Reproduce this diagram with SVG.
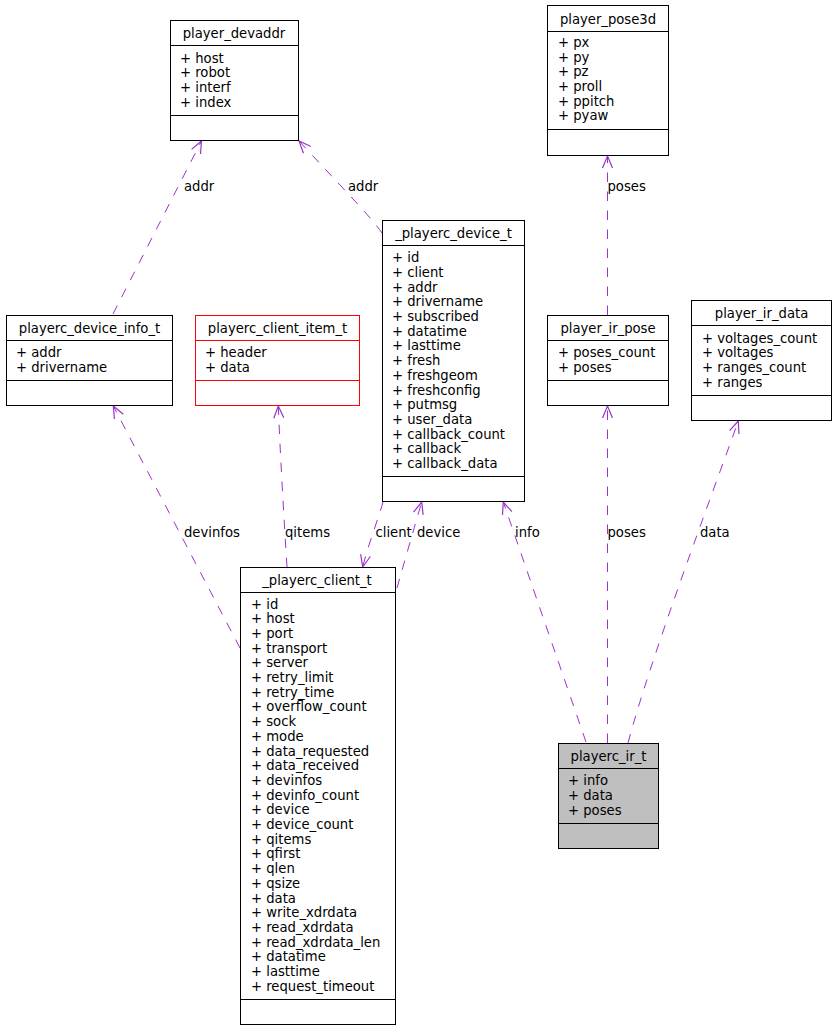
<svg xmlns="http://www.w3.org/2000/svg" width="835" height="1029" viewBox="0 0 835 1029">
<style>
text{font-family:"DejaVu Sans","Liberation Sans",sans-serif;font-size:13.2px;fill:#000}
.t{text-anchor:middle}
.box{fill:#fff;stroke:#000;stroke-width:1}
.red{stroke:#ff0000}
.gray{fill:#bfbfbf}
.sep{stroke:#000;stroke-width:1}
.sepred{stroke:#ff0000;stroke-width:1}
.e{fill:none;stroke:#9a32cd;stroke-width:1;stroke-dasharray:9.5,9.5;marker-end:url(#arr)}
</style>
<defs>
<marker id="arr" markerUnits="userSpaceOnUse" markerWidth="16" markerHeight="14" refX="12" refY="6" orient="auto" overflow="visible">
<path d="M0,1 L12,6 L0,11" fill="none" stroke="#9a32cd" stroke-width="1.2"/>
</marker>
</defs>
<rect width="835" height="1029" fill="#fff"/>
<g id="connectors">
<path class="e" d="M113,314 L201.5,141"/>
<path class="e" d="M382,233 C372,218 335,180 299,141"/>
<path class="e" d="M607.5,315 L607.5,156"/>
<path class="e" d="M287,567 C284,520 280,450 278.3,406"/>
<path class="e" d="M240,648 L113.3,406"/>
<path class="e" d="M397,588 C402,570 415,525 421.7,502"/>
<path class="e" d="M383,502 C378,520 368,545 362.7,567"/>
<path class="e" d="M586,742 L503.3,502"/>
<path class="e" d="M607.5,743 L607.5,406"/>
<path class="e" d="M628,743 C650,660 710,500 738.3,421"/>
<text x="184" y="190.5">addr</text>
<text x="348" y="190.5">addr</text>
<text x="607.5" y="190.5">poses</text>
<text x="184" y="536.5">devinfos</text>
<text x="285" y="536.5">qitems</text>
<text x="375.5" y="536.5">client</text>
<text x="417" y="536.5">device</text>
<text x="515" y="536.5">info</text>
<text x="607.5" y="536.5">poses</text>
<text x="700" y="536.5">data</text>
</g>
<g id="player_devaddr">
<rect class="box" x="170.5" y="20.5" width="128" height="120"/>
<line class="sep" x1="170.5" y1="45.5" x2="298.5" y2="45.5"/>
<line class="sep" x1="170.5" y1="115.5" x2="298.5" y2="115.5"/>
<text class="t" x="234" y="37.5">player_devaddr</text>
<text x="180" y="62.5">+ host</text>
<text x="180" y="77.2">+ robot</text>
<text x="180" y="91.8">+ interf</text>
<text x="180" y="106.5">+ index</text>
</g>
<g id="player_pose3d">
<rect class="box" x="547.5" y="5.5" width="121" height="150"/>
<line class="sep" x1="547.5" y1="31.5" x2="668.5" y2="31.5"/>
<line class="sep" x1="547.5" y1="129.5" x2="668.5" y2="129.5"/>
<text class="t" x="608" y="23.5">player_pose3d</text>
<text x="558" y="47">+ px</text>
<text x="558" y="61.6">+ py</text>
<text x="558" y="76.3">+ pz</text>
<text x="558" y="91">+ proll</text>
<text x="558" y="105.6">+ ppitch</text>
<text x="558" y="120.2">+ pyaw</text>
</g>
<g id="playerc_device_info_t">
<rect class="box" x="6.5" y="315.5" width="166" height="90"/>
<line class="sep" x1="6.5" y1="340.5" x2="172.5" y2="340.5"/>
<line class="sep" x1="6.5" y1="380.5" x2="172.5" y2="380.5"/>
<text class="t" x="89.5" y="332.5">playerc_device_info_t</text>
<text x="16" y="356.8">+ addr</text>
<text x="16" y="371.5">+ drivername</text>
</g>
<g id="playerc_client_item_t">
<rect class="box red" x="195.5" y="315.5" width="164" height="90"/>
<line class="sepred" x1="195.5" y1="340.5" x2="359.5" y2="340.5"/>
<line class="sepred" x1="195.5" y1="380.5" x2="359.5" y2="380.5"/>
<text class="t" x="277.5" y="332.5">playerc_client_item_t</text>
<text x="205" y="356.8">+ header</text>
<text x="205" y="371.5">+ data</text>
</g>
<g id="_playerc_device_t">
<rect class="box" x="382.5" y="220.5" width="142" height="281"/>
<line class="sep" x1="382.5" y1="245.5" x2="524.5" y2="245.5"/>
<line class="sep" x1="382.5" y1="476.5" x2="524.5" y2="476.5"/>
<text class="t" x="453.5" y="238">_playerc_device_t</text>
<text x="392" y="262.3">+ id</text>
<text x="392" y="277">+ client</text>
<text x="392" y="291.7">+ addr</text>
<text x="392" y="306.4">+ drivername</text>
<text x="392" y="321.1">+ subscribed</text>
<text x="392" y="335.8">+ datatime</text>
<text x="392" y="350.4">+ lasttime</text>
<text x="392" y="365.1">+ fresh</text>
<text x="392" y="379.8">+ freshgeom</text>
<text x="392" y="394.5">+ freshconfig</text>
<text x="392" y="409.2">+ putmsg</text>
<text x="392" y="423.9">+ user_data</text>
<text x="392" y="438.6">+ callback_count</text>
<text x="392" y="453.3">+ callback</text>
<text x="392" y="468">+ callback_data</text>
</g>
<g id="player_ir_pose">
<rect class="box" x="547.5" y="315.5" width="121" height="90"/>
<line class="sep" x1="547.5" y1="340.5" x2="668.5" y2="340.5"/>
<line class="sep" x1="547.5" y1="380.5" x2="668.5" y2="380.5"/>
<text class="t" x="608" y="332.5">player_ir_pose</text>
<text x="558" y="356.8">+ poses_count</text>
<text x="558" y="371.5">+ poses</text>
</g>
<g id="player_ir_data">
<rect class="box" x="691.5" y="300.5" width="140" height="120"/>
<line class="sep" x1="691.5" y1="325.5" x2="831.5" y2="325.5"/>
<line class="sep" x1="691.5" y1="395.5" x2="831.5" y2="395.5"/>
<text class="t" x="761.5" y="317.5">player_ir_data</text>
<text x="702" y="342.8">+ voltages_count</text>
<text x="702" y="357.4">+ voltages</text>
<text x="702" y="372">+ ranges_count</text>
<text x="702" y="386.6">+ ranges</text>
</g>
<g id="playerc_ir_t">
<rect class="box gray" x="558.5" y="743.5" width="100" height="105"/>
<line class="sep" x1="558.5" y1="768.5" x2="658.5" y2="768.5"/>
<line class="sep" x1="558.5" y1="823.5" x2="658.5" y2="823.5"/>
<text class="t" x="608.5" y="760.5">playerc_ir_t</text>
<text x="568" y="785">+ info</text>
<text x="568" y="799.8">+ data</text>
<text x="568" y="814.5">+ poses</text>
</g>
<g id="_playerc_client_t">
<rect class="box" x="240.5" y="567.5" width="155" height="457"/>
<line class="sep" x1="240.5" y1="592.5" x2="395.5" y2="592.5"/>
<line class="sep" x1="240.5" y1="999.5" x2="395.5" y2="999.5"/>
<text class="t" x="317" y="585">_playerc_client_t</text>
<text x="251" y="608.5">+ id</text>
<text x="251" y="623.2">+ host</text>
<text x="251" y="637.9">+ port</text>
<text x="251" y="652.6">+ transport</text>
<text x="251" y="667.3">+ server</text>
<text x="251" y="682">+ retry_limit</text>
<text x="251" y="696.7">+ retry_time</text>
<text x="251" y="711.4">+ overflow_count</text>
<text x="251" y="726.1">+ sock</text>
<text x="251" y="740.8">+ mode</text>
<text x="251" y="755.5">+ data_requested</text>
<text x="251" y="770.2">+ data_received</text>
<text x="251" y="784.9">+ devinfos</text>
<text x="251" y="799.6">+ devinfo_count</text>
<text x="251" y="814.3">+ device</text>
<text x="251" y="829">+ device_count</text>
<text x="251" y="843.7">+ qitems</text>
<text x="251" y="858.4">+ qfirst</text>
<text x="251" y="873.1">+ qlen</text>
<text x="251" y="887.8">+ qsize</text>
<text x="251" y="902.5">+ data</text>
<text x="251" y="917.2">+ write_xdrdata</text>
<text x="251" y="931.9">+ read_xdrdata</text>
<text x="251" y="946.6">+ read_xdrdata_len</text>
<text x="251" y="961.3">+ datatime</text>
<text x="251" y="976">+ lasttime</text>
<text x="251" y="990.7">+ request_timeout</text>
</g>
</svg>
